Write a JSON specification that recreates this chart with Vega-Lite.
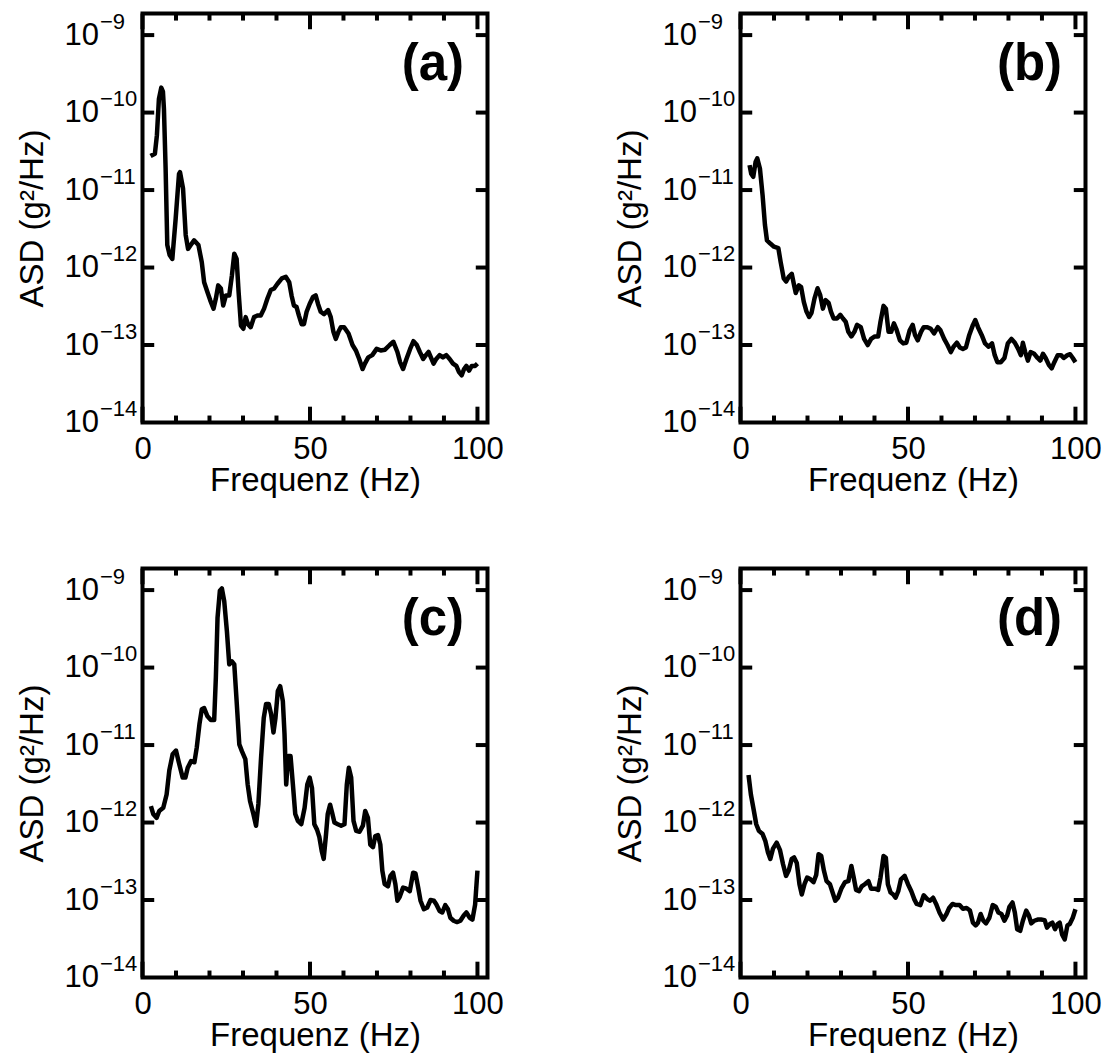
{
  "$schema": "https://vega.github.io/schema/vega-lite/v6.json",
  "background": "white",
  "padding": {"left": 13.5, "top": 7.5, "right": 5, "bottom": 5},
  "config": {
    "view": {"stroke": "black", "strokeWidth": 4},
    "axis": {"labelFont": "Liberation Sans", "labelFontSize": 31, "titleFont": "Liberation Sans", "titleFontSize": 33, "titleFontWeight": "normal", "labelColor": "black", "titleColor": "black", "domain": false, "grid": false, "ticks": false, "labelFlush": false},
    "rule": {"color": "black", "strokeWidth": 4}
  },
  "datasets": {
    "a": [{"f":2.4,"v":2.75e-11},{"f":3.7,"v":2.95e-11},{"f":4.3,"v":5.1e-11},{"f":4.9,"v":1.5e-10},{"f":5.6,"v":2.1e-10},{"f":6.1,"v":1.86e-10},{"f":6.4,"v":1.12e-10},{"f":6.9,"v":1.9e-11},{"f":7.4,"v":1.95e-12},{"f":8.1,"v":1.45e-12},{"f":8.9,"v":1.29e-12},{"f":9.9,"v":4.27e-12},{"f":10.9,"v":1.62e-11},{"f":11.2,"v":1.7e-11},{"f":12.1,"v":1.05e-11},{"f":12.9,"v":2.63e-12},{"f":13.6,"v":1.74e-12},{"f":14.4,"v":1.95e-12},{"f":15.4,"v":2.24e-12},{"f":16.7,"v":1.95e-12},{"f":17.7,"v":1.17e-12},{"f":18.4,"v":6.46e-13},{"f":19.4,"v":4.79e-13},{"f":20.2,"v":3.8e-13},{"f":21.2,"v":2.95e-13},{"f":21.9,"v":3.98e-13},{"f":22.6,"v":5.89e-13},{"f":23.4,"v":5.37e-13},{"f":24.1,"v":3.24e-13},{"f":24.9,"v":4.37e-13},{"f":25.9,"v":4.37e-13},{"f":26.7,"v":7.94e-13},{"f":27.4,"v":1.51e-12},{"f":28.1,"v":1.29e-12},{"f":28.7,"v":4.79e-13},{"f":29.4,"v":1.78e-13},{"f":30.1,"v":1.62e-13},{"f":30.8,"v":2.29e-13},{"f":31.5,"v":1.86e-13},{"f":32.3,"v":1.7e-13},{"f":33.3,"v":2.29e-13},{"f":34.3,"v":2.4e-13},{"f":35.3,"v":2.4e-13},{"f":36.3,"v":2.95e-13},{"f":37.3,"v":3.98e-13},{"f":38.3,"v":5.13e-13},{"f":39.3,"v":5.37e-13},{"f":40.3,"v":6.17e-13},{"f":41.6,"v":7.24e-13},{"f":42.8,"v":7.59e-13},{"f":43.8,"v":6.46e-13},{"f":44.5,"v":4.37e-13},{"f":45.2,"v":3.24e-13},{"f":46.0,"v":3.09e-13},{"f":46.7,"v":2.4e-13},{"f":47.5,"v":1.86e-13},{"f":48.2,"v":1.86e-13},{"f":49.0,"v":2.69e-13},{"f":49.9,"v":3.39e-13},{"f":50.9,"v":4.17e-13},{"f":51.7,"v":4.37e-13},{"f":52.4,"v":3.39e-13},{"f":53.2,"v":2.69e-13},{"f":54.2,"v":2.51e-13},{"f":55.4,"v":2.82e-13},{"f":56.2,"v":2.29e-13},{"f":57.0,"v":1.48e-13},{"f":57.7,"v":1.2e-13},{"f":58.5,"v":1.48e-13},{"f":59.2,"v":1.7e-13},{"f":60.2,"v":1.7e-13},{"f":61.5,"v":1.41e-13},{"f":62.7,"v":1.0e-13},{"f":63.7,"v":8.51e-14},{"f":64.7,"v":6.61e-14},{"f":65.7,"v":4.9e-14},{"f":66.4,"v":5.75e-14},{"f":67.4,"v":6.92e-14},{"f":68.6,"v":7.41e-14},{"f":69.9,"v":8.91e-14},{"f":71.1,"v":8.51e-14},{"f":72.4,"v":8.71e-14},{"f":73.8,"v":1.0e-13},{"f":74.9,"v":1.1e-13},{"f":76.1,"v":8.13e-14},{"f":76.9,"v":6.03e-14},{"f":77.8,"v":4.9e-14},{"f":78.8,"v":6.61e-14},{"f":79.9,"v":8.91e-14},{"f":80.9,"v":1.12e-13},{"f":81.9,"v":1.0e-13},{"f":82.8,"v":8.13e-14},{"f":83.8,"v":6.61e-14},{"f":84.6,"v":7.41e-14},{"f":85.4,"v":8.13e-14},{"f":86.1,"v":6.92e-14},{"f":86.9,"v":5.75e-14},{"f":87.7,"v":6.61e-14},{"f":88.7,"v":7.41e-14},{"f":89.7,"v":6.92e-14},{"f":90.7,"v":7.41e-14},{"f":91.7,"v":6.61e-14},{"f":92.7,"v":5.75e-14},{"f":93.7,"v":5.37e-14},{"f":94.5,"v":4.47e-14},{"f":95.3,"v":4.07e-14},{"f":96.0,"v":4.9e-14},{"f":96.7,"v":5.37e-14},{"f":97.5,"v":4.68e-14},{"f":98.3,"v":5.37e-14},{"f":99.3,"v":5.37e-14},{"f":100,"v":5.75e-14}],
    "b": [{"f":2.7,"v":2.1e-11},{"f":3.2,"v":1.62e-11},{"f":3.8,"v":1.48e-11},{"f":4.5,"v":2.3e-11},{"f":5.0,"v":2.57e-11},{"f":5.8,"v":1.9e-11},{"f":6.6,"v":8.5e-12},{"f":7.3,"v":3.55e-12},{"f":7.9,"v":2.24e-12},{"f":8.9,"v":2.04e-12},{"f":10.0,"v":1.86e-12},{"f":11.3,"v":1.78e-12},{"f":12.0,"v":1.17e-12},{"f":12.9,"v":7.24e-13},{"f":13.6,"v":6.6e-13},{"f":14.4,"v":7.6e-13},{"f":15.3,"v":8.3e-13},{"f":16.0,"v":5.9e-13},{"f":16.5,"v":4.7e-13},{"f":17.4,"v":5.9e-13},{"f":18.1,"v":5.6e-13},{"f":18.9,"v":3.6e-13},{"f":19.7,"v":2.7e-13},{"f":20.5,"v":2.3e-13},{"f":21.2,"v":2.6e-13},{"f":22.1,"v":4.0e-13},{"f":23.0,"v":5.4e-13},{"f":23.8,"v":4.4e-13},{"f":24.6,"v":2.95e-13},{"f":25.4,"v":3.8e-13},{"f":26.3,"v":3.5e-13},{"f":27.0,"v":2.7e-13},{"f":27.8,"v":2.2e-13},{"f":28.8,"v":2.2e-13},{"f":29.8,"v":2.45e-13},{"f":30.6,"v":2.2e-13},{"f":31.4,"v":2.0e-13},{"f":32.2,"v":1.48e-13},{"f":33.1,"v":1.29e-13},{"f":34.0,"v":1.48e-13},{"f":34.8,"v":1.82e-13},{"f":35.9,"v":1.7e-13},{"f":36.9,"v":1.2e-13},{"f":38.0,"v":1.0e-13},{"f":39.0,"v":1.2e-13},{"f":40.1,"v":1.29e-13},{"f":41.1,"v":1.29e-13},{"f":41.8,"v":2.0e-13},{"f":42.7,"v":3.2e-13},{"f":43.4,"v":2.95e-13},{"f":44.2,"v":1.48e-13},{"f":45.0,"v":1.48e-13},{"f":45.8,"v":1.9e-13},{"f":46.5,"v":1.62e-13},{"f":47.6,"v":1.15e-13},{"f":48.6,"v":1.05e-13},{"f":49.5,"v":1.07e-13},{"f":50.5,"v":1.55e-13},{"f":51.4,"v":1.82e-13},{"f":52.1,"v":1.35e-13},{"f":52.9,"v":1.15e-13},{"f":53.9,"v":1.48e-13},{"f":54.7,"v":1.7e-13},{"f":55.8,"v":1.7e-13},{"f":56.8,"v":1.62e-13},{"f":57.8,"v":1.41e-13},{"f":58.9,"v":1.7e-13},{"f":59.7,"v":1.55e-13},{"f":60.8,"v":1.2e-13},{"f":61.8,"v":1.0e-13},{"f":62.8,"v":8.1e-14},{"f":63.6,"v":9.5e-14},{"f":64.6,"v":1.07e-13},{"f":65.5,"v":9.3e-14},{"f":66.4,"v":8.9e-14},{"f":67.3,"v":9.3e-14},{"f":68.3,"v":1.35e-13},{"f":69.4,"v":1.82e-13},{"f":70.1,"v":2.1e-13},{"f":70.9,"v":1.7e-13},{"f":72.0,"v":1.35e-13},{"f":73.0,"v":1.05e-13},{"f":74.1,"v":9.5e-14},{"f":75.1,"v":1.05e-13},{"f":75.9,"v":7.4e-14},{"f":76.7,"v":6.0e-14},{"f":77.7,"v":6.0e-14},{"f":78.8,"v":6.8e-14},{"f":79.8,"v":1.05e-13},{"f":80.9,"v":1.2e-13},{"f":81.9,"v":1.07e-13},{"f":82.9,"v":8.9e-14},{"f":83.7,"v":7.4e-14},{"f":84.3,"v":1.07e-13},{"f":85.0,"v":8.1e-14},{"f":85.8,"v":6.3e-14},{"f":86.6,"v":8.1e-14},{"f":87.7,"v":7.7e-14},{"f":88.7,"v":6.8e-14},{"f":89.5,"v":6.3e-14},{"f":90.3,"v":7.7e-14},{"f":91.1,"v":6.8e-14},{"f":92.1,"v":5.5e-14},{"f":92.9,"v":5.0e-14},{"f":93.7,"v":6.0e-14},{"f":94.7,"v":7.4e-14},{"f":95.7,"v":7.4e-14},{"f":96.5,"v":6.8e-14},{"f":97.6,"v":7.4e-14},{"f":98.4,"v":7.6e-14},{"f":99.2,"v":6.8e-14},{"f":100,"v":6.0e-14}],
    "c": [{"f":2.5,"v":1.63e-12},{"f":3.2,"v":1.29e-12},{"f":4.2,"v":1.15e-12},{"f":5.0,"v":1.41e-12},{"f":6.2,"v":1.55e-12},{"f":7.2,"v":2.3e-12},{"f":8.0,"v":4.7e-12},{"f":9.0,"v":7.6e-12},{"f":10.0,"v":8.5e-12},{"f":11.0,"v":5.6e-12},{"f":12.0,"v":3.8e-12},{"f":12.8,"v":3.8e-12},{"f":13.5,"v":5.1e-12},{"f":14.5,"v":6.2e-12},{"f":15.5,"v":6.0e-12},{"f":16.2,"v":9.3e-12},{"f":17.0,"v":1.86e-11},{"f":17.7,"v":2.9e-11},{"f":18.4,"v":3.0e-11},{"f":19.4,"v":2.35e-11},{"f":20.4,"v":2.1e-11},{"f":21.4,"v":2.1e-11},{"f":21.9,"v":7.4e-11},{"f":22.4,"v":4.4e-10},{"f":23.1,"v":9.8e-10},{"f":23.7,"v":1.05e-9},{"f":24.4,"v":7.2e-10},{"f":25.2,"v":2.95e-10},{"f":25.9,"v":1.1e-10},{"f":26.7,"v":1.2e-10},{"f":27.4,"v":1.1e-10},{"f":28.1,"v":3.7e-11},{"f":28.9,"v":1.02e-11},{"f":29.7,"v":8.3e-12},{"f":30.7,"v":6.6e-12},{"f":31.4,"v":3.1e-12},{"f":32.1,"v":1.9e-12},{"f":33.1,"v":1.29e-12},{"f":33.9,"v":9.1e-13},{"f":34.6,"v":1.74e-12},{"f":35.4,"v":6.9e-12},{"f":36.2,"v":2.24e-11},{"f":36.9,"v":3.4e-11},{"f":37.7,"v":3.4e-11},{"f":38.4,"v":2.5e-11},{"f":39.1,"v":1.45e-11},{"f":39.7,"v":2.24e-11},{"f":40.4,"v":5.0e-11},{"f":41.1,"v":5.75e-11},{"f":41.9,"v":3.7e-11},{"f":42.4,"v":1.38e-11},{"f":42.9,"v":3.1e-12},{"f":43.5,"v":7.2e-12},{"f":44.2,"v":7.2e-12},{"f":44.9,"v":3.1e-12},{"f":45.6,"v":1.29e-12},{"f":46.4,"v":1.05e-12},{"f":47.4,"v":9.5e-13},{"f":48.4,"v":1.55e-12},{"f":49.2,"v":3.1e-12},{"f":49.9,"v":3.8e-12},{"f":50.6,"v":2.8e-12},{"f":51.3,"v":9.5e-13},{"f":52.1,"v":8.1e-13},{"f":52.8,"v":6.5e-13},{"f":53.5,"v":4.3e-13},{"f":54.1,"v":3.4e-13},{"f":54.8,"v":7.1e-13},{"f":55.3,"v":1.29e-12},{"f":56.0,"v":1.7e-12},{"f":56.6,"v":1.35e-12},{"f":57.3,"v":1.0e-12},{"f":58.3,"v":9.5e-13},{"f":59.3,"v":9.1e-13},{"f":60.3,"v":9.5e-13},{"f":61.0,"v":3.1e-12},{"f":61.6,"v":5.1e-12},{"f":62.3,"v":3.8e-12},{"f":63.0,"v":1.05e-12},{"f":63.8,"v":7.8e-13},{"f":64.8,"v":7.6e-13},{"f":65.8,"v":9.1e-13},{"f":66.5,"v":1.41e-12},{"f":67.3,"v":1.15e-12},{"f":68.0,"v":5.2e-13},{"f":68.8,"v":4.8e-13},{"f":69.5,"v":6.7e-13},{"f":70.3,"v":6.9e-13},{"f":71.0,"v":5.2e-13},{"f":71.6,"v":2.4e-13},{"f":72.3,"v":1.6e-13},{"f":73.3,"v":1.5e-13},{"f":74.0,"v":2.05e-13},{"f":74.8,"v":2.25e-13},{"f":75.5,"v":1.6e-13},{"f":76.1,"v":9.8e-14},{"f":76.8,"v":1.1e-13},{"f":77.8,"v":1.45e-13},{"f":78.8,"v":1.4e-13},{"f":79.8,"v":1.3e-13},{"f":80.8,"v":2.25e-13},{"f":81.5,"v":2.2e-13},{"f":82.3,"v":1.45e-13},{"f":83.0,"v":9.8e-14},{"f":84.0,"v":7.6e-14},{"f":85.0,"v":8.0e-14},{"f":86.0,"v":1.0e-13},{"f":87.0,"v":9.8e-14},{"f":87.7,"v":8.8e-14},{"f":88.7,"v":7.2e-14},{"f":89.5,"v":6.9e-14},{"f":90.4,"v":8.6e-14},{"f":91.2,"v":7.6e-14},{"f":91.9,"v":5.9e-14},{"f":92.9,"v":5.4e-14},{"f":93.9,"v":5.2e-14},{"f":94.9,"v":5.4e-14},{"f":95.9,"v":6.3e-14},{"f":96.7,"v":6.9e-14},{"f":97.7,"v":5.9e-14},{"f":98.5,"v":5.6e-14},{"f":99.3,"v":8.7e-14},{"f":100,"v":2.4e-13}],
    "d": [{"f":2.4,"v":4.1e-12},{"f":3.1,"v":2.3e-12},{"f":4.0,"v":1.41e-12},{"f":4.7,"v":9.5e-13},{"f":5.5,"v":7.8e-13},{"f":6.6,"v":7.1e-13},{"f":7.4,"v":5.8e-13},{"f":8.2,"v":4.1e-13},{"f":8.9,"v":3.4e-13},{"f":9.7,"v":4.6e-13},{"f":10.8,"v":5.5e-13},{"f":11.8,"v":4.4e-13},{"f":12.7,"v":2.9e-13},{"f":13.6,"v":2.05e-13},{"f":14.4,"v":2.4e-13},{"f":15.3,"v":3.4e-13},{"f":16.0,"v":3.55e-13},{"f":16.8,"v":3.0e-13},{"f":17.6,"v":1.6e-13},{"f":18.3,"v":1.18e-13},{"f":19.1,"v":1.6e-13},{"f":19.9,"v":1.95e-13},{"f":20.9,"v":1.85e-13},{"f":21.8,"v":1.7e-13},{"f":22.6,"v":2.1e-13},{"f":23.3,"v":3.9e-13},{"f":24.1,"v":3.7e-13},{"f":24.9,"v":2.4e-13},{"f":25.7,"v":1.75e-13},{"f":26.7,"v":1.6e-13},{"f":27.5,"v":1.25e-13},{"f":28.3,"v":9.8e-14},{"f":29.1,"v":1.07e-13},{"f":30.1,"v":1.4e-13},{"f":31.2,"v":1.7e-13},{"f":32.2,"v":1.75e-13},{"f":33.1,"v":2.75e-13},{"f":33.8,"v":1.95e-13},{"f":34.5,"v":1.35e-13},{"f":35.4,"v":1.3e-13},{"f":36.2,"v":1.5e-13},{"f":37.1,"v":1.6e-13},{"f":38.2,"v":1.75e-13},{"f":39.0,"v":1.4e-13},{"f":40.1,"v":1.4e-13},{"f":41.1,"v":1.35e-13},{"f":41.8,"v":1.95e-13},{"f":42.7,"v":3.7e-13},{"f":43.4,"v":3.5e-13},{"f":44.0,"v":1.6e-13},{"f":44.8,"v":1.25e-13},{"f":45.6,"v":1.18e-13},{"f":46.3,"v":1.07e-13},{"f":47.1,"v":1.3e-13},{"f":47.9,"v":1.85e-13},{"f":49.0,"v":2.05e-13},{"f":50.0,"v":1.6e-13},{"f":51.0,"v":1.3e-13},{"f":51.9,"v":1.02e-13},{"f":52.6,"v":8.9e-14},{"f":53.7,"v":8.6e-14},{"f":54.7,"v":1.15e-13},{"f":55.8,"v":1.02e-13},{"f":56.6,"v":9.8e-14},{"f":57.5,"v":1.07e-13},{"f":58.4,"v":8.9e-14},{"f":59.4,"v":6.9e-14},{"f":60.5,"v":5.6e-14},{"f":61.5,"v":6.6e-14},{"f":62.3,"v":7.9e-14},{"f":63.3,"v":8.9e-14},{"f":64.3,"v":8.6e-14},{"f":65.4,"v":8.6e-14},{"f":66.4,"v":7.7e-14},{"f":67.5,"v":7.9e-14},{"f":68.5,"v":7.3e-14},{"f":69.4,"v":5.1e-14},{"f":70.2,"v":4.7e-14},{"f":70.9,"v":5.1e-14},{"f":71.7,"v":6.6e-14},{"f":72.5,"v":5.4e-14},{"f":73.3,"v":5.0e-14},{"f":74.3,"v":5.9e-14},{"f":75.3,"v":8.6e-14},{"f":76.2,"v":8.2e-14},{"f":77.0,"v":6.9e-14},{"f":77.9,"v":6.6e-14},{"f":78.8,"v":5.4e-14},{"f":79.6,"v":6.3e-14},{"f":80.3,"v":8.2e-14},{"f":81.2,"v":9.3e-14},{"f":81.9,"v":6.9e-14},{"f":82.6,"v":4.2e-14},{"f":83.5,"v":4.0e-14},{"f":84.3,"v":5.4e-14},{"f":85.3,"v":7.3e-14},{"f":86.1,"v":6.3e-14},{"f":86.8,"v":5.0e-14},{"f":87.7,"v":5.4e-14},{"f":88.7,"v":5.6e-14},{"f":89.7,"v":5.6e-14},{"f":90.8,"v":5.5e-14},{"f":91.5,"v":4.4e-14},{"f":92.4,"v":4.9e-14},{"f":93.1,"v":5.1e-14},{"f":93.9,"v":4.2e-14},{"f":94.7,"v":4.9e-14},{"f":95.3,"v":5.1e-14},{"f":96.0,"v":3.6e-14},{"f":96.8,"v":3.1e-14},{"f":97.6,"v":4.7e-14},{"f":98.3,"v":4.9e-14},{"f":99.2,"v":5.9e-14},{"f":100,"v":7.6e-14}]
  },
  "columns": 2,
  "spacing": {"row": 146, "column": 253},
  "bounds": "flush",
  "concat": [
    {
      "width": 345, "height": 409,
      "layer": [
        {"data": {"name": "a"},
         "mark": {"type": "line", "color": "black", "strokeWidth": 4.5, "strokeJoin": "round"},
         "encoding": {
           "x": {"field": "f", "type": "quantitative", "scale": {"domain": [0, 103], "nice": false, "zero": false},
                 "axis": {"orient": "bottom", "values": [0, 50, 100], "labelPadding": 12, "title": "Frequenz (Hz)", "titlePadding": 0}},
           "y": {"field": "v", "type": "quantitative", "scale": {"type": "log", "domain": [1e-14, 1.9e-9], "nice": false},
                 "axis": {"orient": "left", "values": [1e-14,1e-13,1e-12,1e-11,1e-10,1e-9], "labelExpr": "'10'", "labelPadding": 44, "title": "ASD (g²/Hz)", "titlePadding": 15}}
         }},
        {"data": {"values": [{"t":0},{"t":50},{"t":100}]}, "mark": "rule",
         "encoding": {"x": {"field": "t", "type": "quantitative", "axis": null}, "y": {"datum": 1e-14, "type": "quantitative", "axis": null}, "y2": {"datum": 1.6e-14}}},
        {"data": {"values": [{"t":0},{"t":50},{"t":100}]}, "mark": "rule",
         "encoding": {"x": {"field": "t", "type": "quantitative", "axis": null}, "y": {"datum": 1.9e-9, "type": "quantitative", "axis": null}, "y2": {"datum": 1.19e-9}}},
        {"data": {"values": [{"t":10},{"t":20},{"t":30},{"t":40},{"t":60},{"t":70},{"t":80},{"t":90}]}, "mark": "rule",
         "encoding": {"x": {"field": "t", "type": "quantitative", "axis": null}, "y": {"datum": 1e-14, "type": "quantitative", "axis": null}, "y2": {"datum": 1.23e-14}}},
        {"data": {"values": [{"t":10},{"t":20},{"t":30},{"t":40},{"t":60},{"t":70},{"t":80},{"t":90}]}, "mark": "rule",
         "encoding": {"x": {"field": "t", "type": "quantitative", "axis": null}, "y": {"datum": 1.9e-9, "type": "quantitative", "axis": null}, "y2": {"datum": 1.54e-9}}},
        {"data": {"values": [{"t":1e-13},{"t":1e-12},{"t":1e-11},{"t":1e-10},{"t":1e-9}]}, "mark": "rule",
         "encoding": {"y": {"field": "t", "type": "quantitative",
                            "axis": {"orient": "left", "values": [1e-14,1e-13,1e-12,1e-11,1e-10,1e-9], "labelExpr": "datum.value < 5e-14 ? '−14' : datum.value < 5e-13 ? '−13' : datum.value < 5e-12 ? '−12' : datum.value < 5e-11 ? '−11' : datum.value < 5e-10 ? '−10' : '−9'", "labelFontSize": 22, "labelAlign": "left", "labelPadding": 43, "labelOffset": -14, "title": null}},
                      "x": {"datum": 0, "type": "quantitative", "axis": null}, "x2": {"datum": 3.5}}},
        {"data": {"values": [{"t":1e-13},{"t":1e-12},{"t":1e-11},{"t":1e-10},{"t":1e-9}]}, "mark": "rule",
         "encoding": {"y": {"field": "t", "type": "quantitative", "axis": null}, "x": {"datum": 103, "type": "quantitative", "axis": null}, "x2": {"datum": 99.5}}},
        {"data": {"values": [{"t": "(a)"}]},
         "mark": {"type": "text", "font": "Liberation Sans", "fontWeight": "bold", "fontSize": 51, "align": "right", "baseline": "alphabetic", "color": "black"},
         "encoding": {"x": {"datum": 96, "type": "quantitative", "axis": null}, "y": {"datum": 2.65e-10, "type": "quantitative", "axis": null}, "text": {"field": "t"}}}
      ],
      "resolve": {"axis": {"x": "independent", "y": "independent"}}
    },
    {
      "width": 345, "height": 409,
      "layer": [
        {"data": {"name": "b"},
         "mark": {"type": "line", "color": "black", "strokeWidth": 4.5, "strokeJoin": "round"},
         "encoding": {
           "x": {"field": "f", "type": "quantitative", "scale": {"domain": [0, 103], "nice": false, "zero": false},
                 "axis": {"orient": "bottom", "values": [0, 50, 100], "labelPadding": 12, "title": "Frequenz (Hz)", "titlePadding": 0}},
           "y": {"field": "v", "type": "quantitative", "scale": {"type": "log", "domain": [1e-14, 1.9e-9], "nice": false},
                 "axis": {"orient": "left", "values": [1e-14,1e-13,1e-12,1e-11,1e-10,1e-9], "labelExpr": "'10'", "labelPadding": 44, "title": "ASD (g²/Hz)", "titlePadding": 15}}
         }},
        {"data": {"values": [{"t":0},{"t":50},{"t":100}]}, "mark": "rule",
         "encoding": {"x": {"field": "t", "type": "quantitative", "axis": null}, "y": {"datum": 1e-14, "type": "quantitative", "axis": null}, "y2": {"datum": 1.6e-14}}},
        {"data": {"values": [{"t":0},{"t":50},{"t":100}]}, "mark": "rule",
         "encoding": {"x": {"field": "t", "type": "quantitative", "axis": null}, "y": {"datum": 1.9e-9, "type": "quantitative", "axis": null}, "y2": {"datum": 1.19e-9}}},
        {"data": {"values": [{"t":10},{"t":20},{"t":30},{"t":40},{"t":60},{"t":70},{"t":80},{"t":90}]}, "mark": "rule",
         "encoding": {"x": {"field": "t", "type": "quantitative", "axis": null}, "y": {"datum": 1e-14, "type": "quantitative", "axis": null}, "y2": {"datum": 1.23e-14}}},
        {"data": {"values": [{"t":10},{"t":20},{"t":30},{"t":40},{"t":60},{"t":70},{"t":80},{"t":90}]}, "mark": "rule",
         "encoding": {"x": {"field": "t", "type": "quantitative", "axis": null}, "y": {"datum": 1.9e-9, "type": "quantitative", "axis": null}, "y2": {"datum": 1.54e-9}}},
        {"data": {"values": [{"t":1e-13},{"t":1e-12},{"t":1e-11},{"t":1e-10},{"t":1e-9}]}, "mark": "rule",
         "encoding": {"y": {"field": "t", "type": "quantitative",
                            "axis": {"orient": "left", "values": [1e-14,1e-13,1e-12,1e-11,1e-10,1e-9], "labelExpr": "datum.value < 5e-14 ? '−14' : datum.value < 5e-13 ? '−13' : datum.value < 5e-12 ? '−12' : datum.value < 5e-11 ? '−11' : datum.value < 5e-10 ? '−10' : '−9'", "labelFontSize": 22, "labelAlign": "left", "labelPadding": 43, "labelOffset": -14, "title": null}},
                      "x": {"datum": 0, "type": "quantitative", "axis": null}, "x2": {"datum": 3.5}}},
        {"data": {"values": [{"t":1e-13},{"t":1e-12},{"t":1e-11},{"t":1e-10},{"t":1e-9}]}, "mark": "rule",
         "encoding": {"y": {"field": "t", "type": "quantitative", "axis": null}, "x": {"datum": 103, "type": "quantitative", "axis": null}, "x2": {"datum": 99.5}}},
        {"data": {"values": [{"t": "(b)"}]},
         "mark": {"type": "text", "font": "Liberation Sans", "fontWeight": "bold", "fontSize": 51, "align": "right", "baseline": "alphabetic", "color": "black"},
         "encoding": {"x": {"datum": 96, "type": "quantitative", "axis": null}, "y": {"datum": 2.65e-10, "type": "quantitative", "axis": null}, "text": {"field": "t"}}}
      ],
      "resolve": {"axis": {"x": "independent", "y": "independent"}}
    },
    {
      "width": 345, "height": 409,
      "layer": [
        {"data": {"name": "c"},
         "mark": {"type": "line", "color": "black", "strokeWidth": 4.5, "strokeJoin": "round"},
         "encoding": {
           "x": {"field": "f", "type": "quantitative", "scale": {"domain": [0, 103], "nice": false, "zero": false},
                 "axis": {"orient": "bottom", "values": [0, 50, 100], "labelPadding": 12, "title": "Frequenz (Hz)", "titlePadding": 0}},
           "y": {"field": "v", "type": "quantitative", "scale": {"type": "log", "domain": [1e-14, 1.9e-9], "nice": false},
                 "axis": {"orient": "left", "values": [1e-14,1e-13,1e-12,1e-11,1e-10,1e-9], "labelExpr": "'10'", "labelPadding": 44, "title": "ASD (g²/Hz)", "titlePadding": 15}}
         }},
        {"data": {"values": [{"t":0},{"t":50},{"t":100}]}, "mark": "rule",
         "encoding": {"x": {"field": "t", "type": "quantitative", "axis": null}, "y": {"datum": 1e-14, "type": "quantitative", "axis": null}, "y2": {"datum": 1.6e-14}}},
        {"data": {"values": [{"t":0},{"t":50},{"t":100}]}, "mark": "rule",
         "encoding": {"x": {"field": "t", "type": "quantitative", "axis": null}, "y": {"datum": 1.9e-9, "type": "quantitative", "axis": null}, "y2": {"datum": 1.19e-9}}},
        {"data": {"values": [{"t":10},{"t":20},{"t":30},{"t":40},{"t":60},{"t":70},{"t":80},{"t":90}]}, "mark": "rule",
         "encoding": {"x": {"field": "t", "type": "quantitative", "axis": null}, "y": {"datum": 1e-14, "type": "quantitative", "axis": null}, "y2": {"datum": 1.23e-14}}},
        {"data": {"values": [{"t":10},{"t":20},{"t":30},{"t":40},{"t":60},{"t":70},{"t":80},{"t":90}]}, "mark": "rule",
         "encoding": {"x": {"field": "t", "type": "quantitative", "axis": null}, "y": {"datum": 1.9e-9, "type": "quantitative", "axis": null}, "y2": {"datum": 1.54e-9}}},
        {"data": {"values": [{"t":1e-13},{"t":1e-12},{"t":1e-11},{"t":1e-10},{"t":1e-9}]}, "mark": "rule",
         "encoding": {"y": {"field": "t", "type": "quantitative",
                            "axis": {"orient": "left", "values": [1e-14,1e-13,1e-12,1e-11,1e-10,1e-9], "labelExpr": "datum.value < 5e-14 ? '−14' : datum.value < 5e-13 ? '−13' : datum.value < 5e-12 ? '−12' : datum.value < 5e-11 ? '−11' : datum.value < 5e-10 ? '−10' : '−9'", "labelFontSize": 22, "labelAlign": "left", "labelPadding": 43, "labelOffset": -14, "title": null}},
                      "x": {"datum": 0, "type": "quantitative", "axis": null}, "x2": {"datum": 3.5}}},
        {"data": {"values": [{"t":1e-13},{"t":1e-12},{"t":1e-11},{"t":1e-10},{"t":1e-9}]}, "mark": "rule",
         "encoding": {"y": {"field": "t", "type": "quantitative", "axis": null}, "x": {"datum": 103, "type": "quantitative", "axis": null}, "x2": {"datum": 99.5}}},
        {"data": {"values": [{"t": "(c)"}]},
         "mark": {"type": "text", "font": "Liberation Sans", "fontWeight": "bold", "fontSize": 51, "align": "right", "baseline": "alphabetic", "color": "black"},
         "encoding": {"x": {"datum": 96, "type": "quantitative", "axis": null}, "y": {"datum": 2.65e-10, "type": "quantitative", "axis": null}, "text": {"field": "t"}}}
      ],
      "resolve": {"axis": {"x": "independent", "y": "independent"}}
    },
    {
      "width": 345, "height": 409,
      "layer": [
        {"data": {"name": "d"},
         "mark": {"type": "line", "color": "black", "strokeWidth": 4.5, "strokeJoin": "round"},
         "encoding": {
           "x": {"field": "f", "type": "quantitative", "scale": {"domain": [0, 103], "nice": false, "zero": false},
                 "axis": {"orient": "bottom", "values": [0, 50, 100], "labelPadding": 12, "title": "Frequenz (Hz)", "titlePadding": 0}},
           "y": {"field": "v", "type": "quantitative", "scale": {"type": "log", "domain": [1e-14, 1.9e-9], "nice": false},
                 "axis": {"orient": "left", "values": [1e-14,1e-13,1e-12,1e-11,1e-10,1e-9], "labelExpr": "'10'", "labelPadding": 44, "title": "ASD (g²/Hz)", "titlePadding": 15}}
         }},
        {"data": {"values": [{"t":0},{"t":50},{"t":100}]}, "mark": "rule",
         "encoding": {"x": {"field": "t", "type": "quantitative", "axis": null}, "y": {"datum": 1e-14, "type": "quantitative", "axis": null}, "y2": {"datum": 1.6e-14}}},
        {"data": {"values": [{"t":0},{"t":50},{"t":100}]}, "mark": "rule",
         "encoding": {"x": {"field": "t", "type": "quantitative", "axis": null}, "y": {"datum": 1.9e-9, "type": "quantitative", "axis": null}, "y2": {"datum": 1.19e-9}}},
        {"data": {"values": [{"t":10},{"t":20},{"t":30},{"t":40},{"t":60},{"t":70},{"t":80},{"t":90}]}, "mark": "rule",
         "encoding": {"x": {"field": "t", "type": "quantitative", "axis": null}, "y": {"datum": 1e-14, "type": "quantitative", "axis": null}, "y2": {"datum": 1.23e-14}}},
        {"data": {"values": [{"t":10},{"t":20},{"t":30},{"t":40},{"t":60},{"t":70},{"t":80},{"t":90}]}, "mark": "rule",
         "encoding": {"x": {"field": "t", "type": "quantitative", "axis": null}, "y": {"datum": 1.9e-9, "type": "quantitative", "axis": null}, "y2": {"datum": 1.54e-9}}},
        {"data": {"values": [{"t":1e-13},{"t":1e-12},{"t":1e-11},{"t":1e-10},{"t":1e-9}]}, "mark": "rule",
         "encoding": {"y": {"field": "t", "type": "quantitative",
                            "axis": {"orient": "left", "values": [1e-14,1e-13,1e-12,1e-11,1e-10,1e-9], "labelExpr": "datum.value < 5e-14 ? '−14' : datum.value < 5e-13 ? '−13' : datum.value < 5e-12 ? '−12' : datum.value < 5e-11 ? '−11' : datum.value < 5e-10 ? '−10' : '−9'", "labelFontSize": 22, "labelAlign": "left", "labelPadding": 43, "labelOffset": -14, "title": null}},
                      "x": {"datum": 0, "type": "quantitative", "axis": null}, "x2": {"datum": 3.5}}},
        {"data": {"values": [{"t":1e-13},{"t":1e-12},{"t":1e-11},{"t":1e-10},{"t":1e-9}]}, "mark": "rule",
         "encoding": {"y": {"field": "t", "type": "quantitative", "axis": null}, "x": {"datum": 103, "type": "quantitative", "axis": null}, "x2": {"datum": 99.5}}},
        {"data": {"values": [{"t": "(d)"}]},
         "mark": {"type": "text", "font": "Liberation Sans", "fontWeight": "bold", "fontSize": 51, "align": "right", "baseline": "alphabetic", "color": "black"},
         "encoding": {"x": {"datum": 96, "type": "quantitative", "axis": null}, "y": {"datum": 2.65e-10, "type": "quantitative", "axis": null}, "text": {"field": "t"}}}
      ],
      "resolve": {"axis": {"x": "independent", "y": "independent"}}
    }
  ]
}
